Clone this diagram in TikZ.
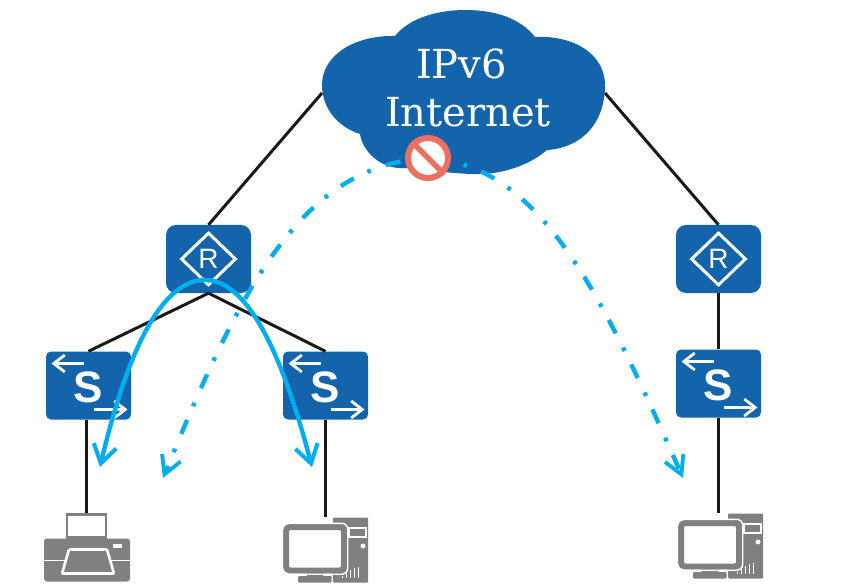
\documentclass[tikz,border=0pt]{standalone}
\usepackage{fontspec}
\setsansfont{Liberation Sans}
\newfontfamily\cloudfont{DejaVu Serif}
\usetikzlibrary{arrows.meta,shapes.geometric}
\definecolor{devblue}{HTML}{1464AC}
\definecolor{flowblue}{HTML}{00AEEF}
\definecolor{stopred}{HTML}{EC6F5F}
\definecolor{hostgray}{HTML}{808080}
\tikzset{
  pics/routericon/.style={code={
    \node[diamond,draw=white,line width=3pt,minimum width=55pt,minimum height=53pt,inner sep=0pt] at (0,0) {};
    \node[text=white,font=\sffamily\fontsize{28}{28}\selectfont] at (0,0) {R};
  }},
  pics/switchicon/.style={code={
    \draw[white,line width=2.8pt,-{Straight Barb[length=11pt,width=17pt]}] (-5,-22)--(-37,-22);
    \draw[white,line width=2.8pt,-{Straight Barb[length=11pt,width=17pt]}] (5,24)--(39,24);
    \node[text=white,font=\sffamily\bfseries\fontsize{44}{44}\selectfont] at (0,2) {S};
  }},
  pics/printericon/.style={code={
    \draw[hostgray,line width=2.6pt,fill=white] (-19,-33)rectangle(20,-10);
    \fill[hostgray,rounded corners=3pt] (-42,-9)rectangle(44,34);
    \draw[white,line width=1.5pt] (-42,13)--(44,13);
    \draw[white,line width=2.6pt,fill=hostgray,rounded corners=1pt] (-17,2)--(21,2)--(28,26)--(-24,26)--cycle;
    \fill[white] (27,-4)rectangle(36,0);
  }},
  pics/pcicon/.style={code={
    \fill[hostgray,rounded corners=1pt] (7.5,-32.5)rectangle(42.5,32.5);
    \draw[white,line width=1.4pt] (23.5,-22)rectangle(40.5,-13);
    \fill[white] (37.5,-4)circle(2.5pt);
    \foreach \ventx/\venty in {17/26,21/23,25/20,29/18,33/17}{\draw[white,line width=1.3pt] (\ventx,\venty)--(\ventx,28);}
    \fill[hostgray] (-19,23)rectangle(-3,28);
    \fill[hostgray,rounded corners=1pt] (-27.5,26)rectangle(6,32.5);
    \draw[white,line width=1.4pt] (7,26)--(7,32.5);
    \draw[hostgray,line width=6pt,fill=white,rounded corners=4pt] (-39.5,-23)rectangle(18.5,20.5);
    \draw[white,line width=1.4pt,rounded corners=6pt] (-43.2,-26.7)rectangle(22.2,24.2);
  }}
}
\begin{document}
\begin{tikzpicture}[x=1pt,y=-1pt,
    routerbox/.style={fill=devblue,rounded corners=10pt,minimum width=85pt,minimum height=68pt,inner sep=0pt},
    switchbox/.style={fill=devblue,rounded corners=5pt,minimum width=85pt,minimum height=68pt,inner sep=0pt},
    hostbox/.style={minimum width=86pt,inner sep=0pt},
    link/.style={line width=3pt,black!90},
    flow/.style={flowblue,line width=4.4pt,{Straight Barb[length=18pt,width=23pt,line width=4pt]}-{Straight Barb[length=18pt,width=23pt,line width=4pt]}},
    blocked/.style={flowblue,line width=4.4pt,-{Straight Barb[length=18pt,width=20pt,line width=3.8pt]},dash pattern=on 15pt off 16pt on 3.8pt off 15pt}]
    \useasboundingbox (0,0) rectangle (857,588);
    % cloud
    \fill[devblue] (395,36) .. controls (410,17) and (440,10) .. (465,10)
      .. controls (495,10) and (520,18) .. (535,37)
      .. controls (575,35) and (605,55) .. (605,85)
      .. controls (605,125) and (580,148) .. (547,150)
      .. controls (530,165) and (500,176) .. (470,174)
      .. controls (450,173) and (425,170) .. (405,168)
      .. controls (380,170) and (362,150) .. (360,134)
      .. controls (340,128) and (322,110) .. (322,85)
      .. controls (322,55) and (355,35) .. (395,36) -- cycle;
    \node[align=center,text=white,font=\cloudfont\fontsize{40}{48}\selectfont] (cloud) at (468,88) {IPv6\hspace*{13pt}\\Internet};
    \coordinate (cloudL) at (322,93);
    \coordinate (cloudR) at (605,93);
    % devices
    \node[routerbox] (routerA) at (208.5,259) {};
    \node[routerbox] (routerB) at (718.5,259) {};
    \node[switchbox] (switchA) at (88.5,385.5) {};
    \node[switchbox] (switchB) at (325.5,385.5) {};
    \node[switchbox] (switchC) at (718.5,383.5) {};
    \node[hostbox,minimum height=69pt] (printer) at (86,547.5) {};
    \node[hostbox,minimum height=65pt] (pcA) at (325.5,550) {};
    \node[hostbox,minimum height=65pt] (pcB) at (720.5,546) {};
    \pic at (routerA) {routericon};
    \pic at (routerB) {routericon};
    \pic at (switchA) {switchicon};
    \pic at (switchB) {switchicon};
    \pic at (switchC) {switchicon};
    \pic at (printer) {printericon};
    \pic at (pcA) {pcicon};
    \pic at (pcB) {pcicon};
    % links
    \draw[link] (cloudL)--(routerA.north);
    \draw[link] (cloudR)--(routerB.north);
    \draw[link] (routerA.south)--(switchA.north);
    \draw[link] (routerA.south)--(switchB.north);
    \draw[link] (routerB.south)--(switchC.north);
    \draw[link] (printer.north |- switchA.south)--(printer.north);
    \draw[link] (switchB.south)--(pcA.north);
    \draw[link] (switchC.south)--(switchC.south |- pcB.north);
    % traffic
    \coordinate (dropL) at (163,478);
    \coordinate (dropR) at (683,478);
    \coordinate (flowA) at (100,467);
    \coordinate (flowB) at (312,467);
    \coordinate (blockpoint) at (428,158);
    \draw[blocked,dash phase=22pt] (blockpoint) .. controls (300,165) and (240,290) .. (dropL);
    \draw[blocked,dash phase=44.6pt] (blockpoint) .. controls (540,165) and (600,290) .. (dropR);
    \node[circle,draw=stopred,fill=white,line width=6pt,minimum size=40pt,inner sep=0pt] (noentry) at (blockpoint) {};
    \draw[stopred,line width=5.5pt] (noentry.135)--(noentry.-45);
    \draw[flow] (flowA) .. controls (130,340) and (165,280) .. (205,280)
      .. controls (245,280) and (280,345) .. (flowB);
  \end{tikzpicture}
\end{document}
